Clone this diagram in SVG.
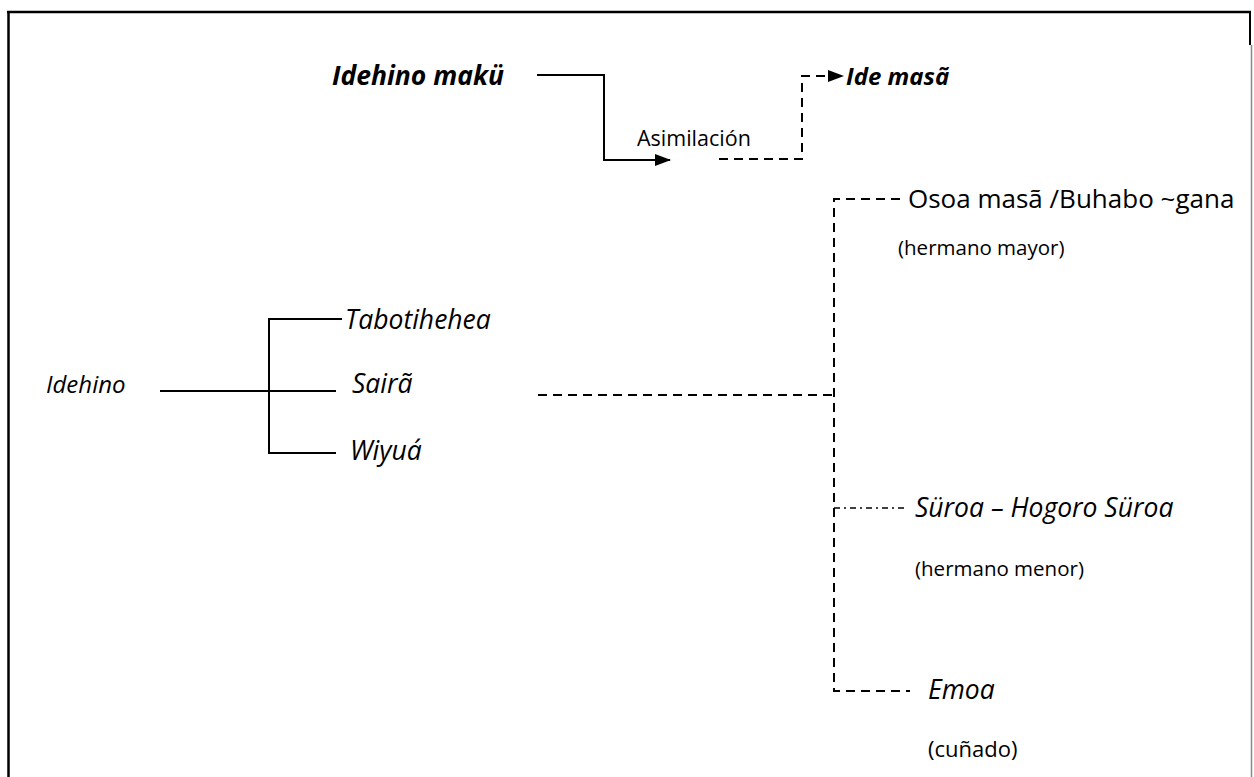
<svg xmlns="http://www.w3.org/2000/svg" width="1254" height="777" viewBox="0 0 1254 777">
  <style>
    text { font-family: "Open Sans", "Noto Sans", "Liberation Sans", sans-serif; fill: #000; }
    .name { font-size: 26.5px; font-style: italic; }
    .bold { font-size: 26.5px; font-style: italic; font-weight: bold; }
    .plain { font-size: 26px; }
    .note { font-size: 20.5px; }
    .solid { fill: none; stroke: #000; stroke-width: 2; }
    .dash { fill: none; stroke: #000; stroke-width: 2; stroke-dasharray: 9 6; }
    .dashdot { fill: none; stroke: #000; stroke-width: 1.5; stroke-dasharray: 6 4 2 4; }
  </style>
  <defs>
    <marker id="arrow" viewBox="0 0 16 12" refX="15" refY="6" markerWidth="16" markerHeight="12" markerUnits="userSpaceOnUse" orient="auto">
      <path d="M0,0 L16,6 L0,12 Z" fill="#000"/>
    </marker>
  </defs>
  <rect width="1254" height="777" fill="#fff"/>

  <!-- page frame -->
  <g id="frame">
    <path d="M7,12 H1251" stroke="#000" stroke-width="2.5" fill="none"/>
    <path d="M8.5,12 V777" stroke="#000" stroke-width="2.5" fill="none"/>
    <path d="M1250,12 V45" stroke="#000" stroke-width="2" fill="none"/>
    <path d="M1251.5,45 V777" stroke="#888" stroke-width="1.5" fill="none"/>
  </g>

  <!-- connectors -->
  <g id="connectors">
    <path class="solid" d="M537,75 H604 V160 H670" marker-end="url(#arrow)"/>
    <path class="dash" d="M719,159 H802 V76 H843" marker-end="url(#arrow)"/>
    <path class="solid" d="M160,391 H336"/>
    <path class="solid" d="M342,319 H269 V453 H336"/>
    <path class="dash" d="M538,395 H834"/>
    <path class="dash" d="M900,199 H834 V691 H910"/>
    <path class="dashdot" d="M834,508 H904"/>
  </g>

  <g id="idehino-maku"><text class="bold" x="332" y="85">Idehino makü</text></g>
  <g id="asimilacion"><text class="note" x="637" y="146" style="font-size:21.5px">Asimilación</text></g>
  <g id="ide-masa"><text class="bold" x="846" y="85" style="font-size:24px">Ide masã</text></g>

  <g id="idehino"><text class="name" x="46" y="393" style="font-size:24px">Idehino</text></g>
  <g id="tabotihehea"><text class="name" x="345" y="329">Tabotihehea</text></g>
  <g id="saira"><text class="name" x="352" y="393">Sairã</text></g>
  <g id="wiyua"><text class="name" x="350" y="460">Wiyuá</text></g>

  <g id="osoa-masa">
    <text class="plain" x="908" y="208">Osoa masã /Buhabo ~gana</text>
    <text class="note" x="898" y="255">(hermano mayor)</text>
  </g>
  <g id="suroa">
    <text class="name" x="915" y="517">Süroa – Hogoro Süroa</text>
    <text class="note" x="915" y="576">(hermano menor)</text>
  </g>
  <g id="emoa">
    <text class="name" x="928" y="699">Emoa</text>
    <text class="note" x="928" y="757" style="font-size:22px">(cuñado)</text>
  </g>
</svg>
